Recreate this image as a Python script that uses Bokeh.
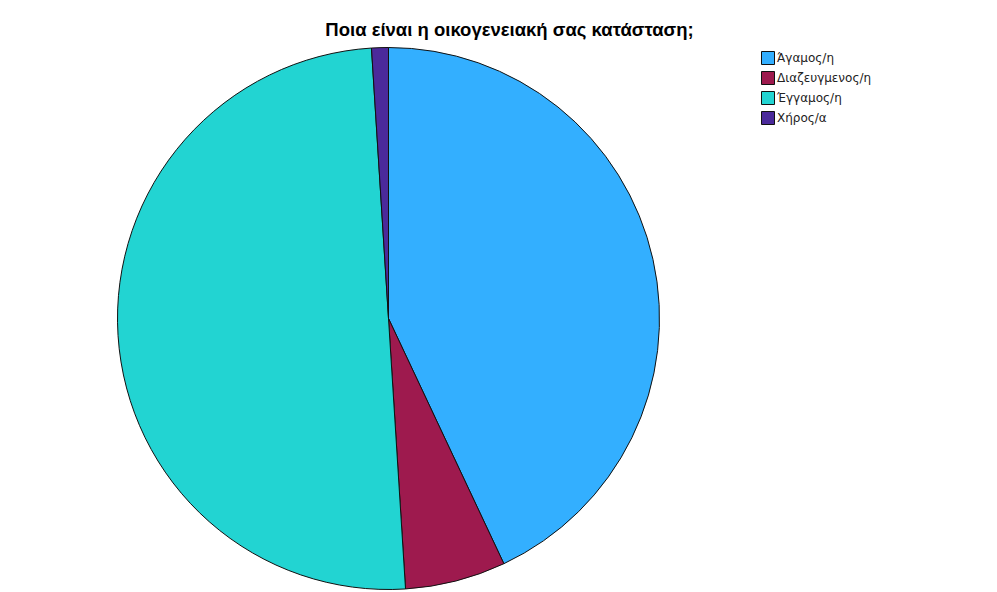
import math
from bokeh.plotting import figure
from bokeh.models import ColumnDataSource, Range1d
from bokeh.core.properties import value
from bokeh.embed import file_html
from bokeh.resources import INLINE

title_text = "Ποια είναι η οικογενειακή σας κατάσταση;"
categories = ["Άγαμος/η", "Διαζευγμενος/η", "Έγγαμος/η", "Χήρος/α"]
counts = [43, 6, 50, 1]
colors = ["#33AFFF", "#9E1A4E", "#22D4D2", "#4B2A9B"]

W, H = 997, 592
total = float(sum(counts))
starts, ends = [], []
cum = 0.0
for c in counts:
    starts.append(math.pi / 2 - 2 * math.pi * cum / total)
    cum += c
    ends.append(math.pi / 2 - 2 * math.pi * cum / total)

# data coordinates = page pixels (y measured upward from the bottom)
cx, cy, r = 388, H - 318, 271
src = ColumnDataSource(dict(cat=categories, val=counts, color=colors, start=starts, end=ends,
                            x=[cx] * len(counts), y=[cy] * len(counts)))

p = figure(width=W, height=H, x_range=Range1d(0, W), y_range=Range1d(0, H),
           output_backend="svg", toolbar_location=None, min_border=0)
p.axis.visible = False
p.grid.visible = False
p.outline_line_color = None
p.background_fill_color = "white"

p.wedge(x="x", y="y", radius=r, start_angle="start", end_angle="end", direction="clock",
        fill_color="color", line_color="#111111", line_width=1, source=src)

# legend
lx = 767.5
ly0 = H - 57.5
step = 20
leg = ColumnDataSource(dict(
    x=[lx] * len(categories),
    y=[ly0 - i * step for i in range(len(categories))],
    tx=[lx + 9] * len(categories),
    cat=categories, color=colors))
p.rect(x="x", y="y", width=13, height=13, fill_color="color", line_color="#111111",
       line_width=1, source=leg)
p.text(x="tx", y="y", text="cat", text_font=value("DejaVu Sans"), text_font_size="12px",
       text_color="#222222", text_baseline="middle", text_align="left", source=leg)

p.text(x=[509], y=[H - 29], text=[title_text], text_font=value("Liberation Sans"),
       text_font_size="18.5px", text_font_style="bold", text_color="#000000",
       text_align="center", text_baseline="middle")

open("out.html", "w").write(file_html(p, INLINE))
